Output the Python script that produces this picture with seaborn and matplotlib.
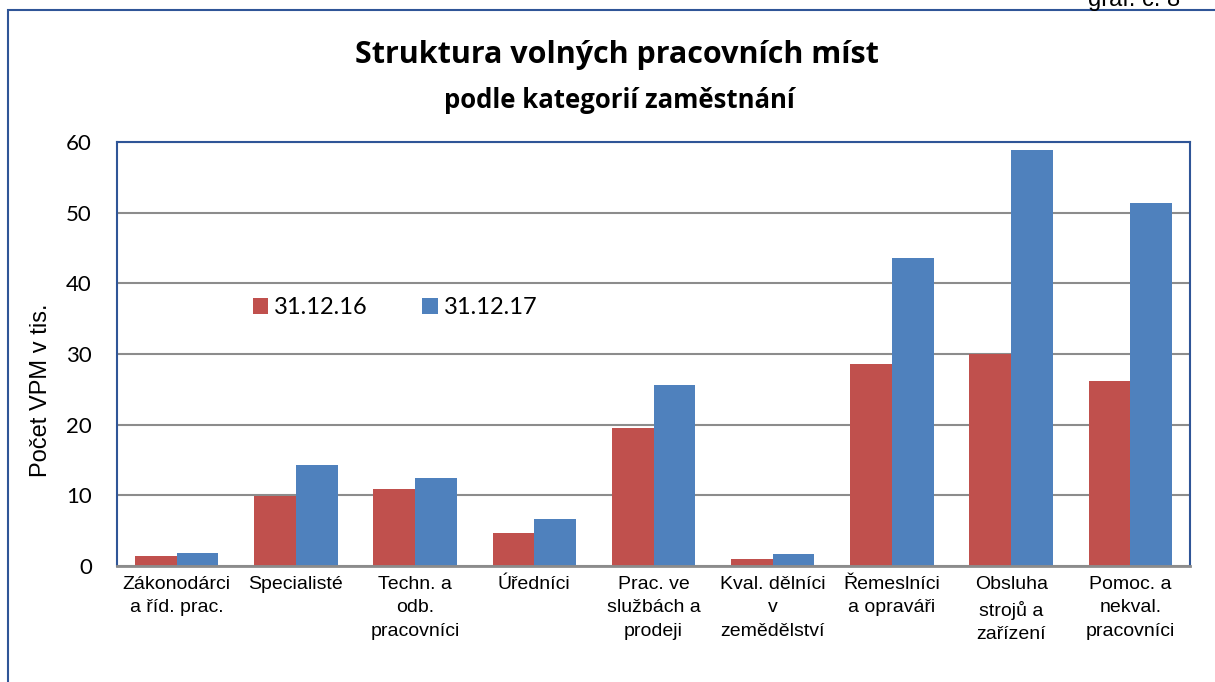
import matplotlib.pyplot as plt
import matplotlib.patches as mpatches
import seaborn as sns
import pandas as pd

categories = [
    "Zákonodárci\na říd. prac.",
    "Specialisté",
    "Techn. a\nodb.\npracovníci",
    "Úředníci",
    "Prac. ve\nslužbách a\nprodeji",
    "Kval. dělníci\nv\nzemědělství",
    "Řemeslníci\na opraváři",
    "Obsluha\nstrojů a\nzařízení",
    "Pomoc. a\nnekval.\npracovníci",
]
vpm_2016 = [1.4, 9.9, 10.9, 4.7, 19.5, 1.0, 28.6, 30.0, 26.2]
vpm_2017 = [1.8, 14.3, 12.4, 6.6, 25.6, 1.7, 43.6, 58.9, 51.4]
series = ["31.12.16", "31.12.17"]
colors = ["#C0504D", "#4F81BD"]

df = pd.DataFrame({
    "kategorie": categories * 2,
    "obdobi": [series[0]] * len(categories) + [series[1]] * len(categories),
    "pocet": vpm_2016 + vpm_2017,
})

sns.set_style("white")
plt.rcParams['font.family'] = ['Liberation Sans', 'DejaVu Sans']
plt.rcParams.update({"text.color": "black", "axes.labelcolor": "black",
                     "xtick.color": "black", "ytick.color": "black"})
calibri_like = ["Lato", "DejaVu Sans"]

W, H = 1215, 682
fig = plt.figure(figsize=(W / 100, H / 100), dpi=100)
ax = fig.add_axes([117 / W, 1 - 566 / H, (1190 - 117) / W, (566 - 142) / H])

sns.barplot(data=df, x="kategorie", y="pocet", hue="obdobi", palette=colors,
            width=0.7, ax=ax, saturation=1, linewidth=0, legend=True)

ax.set_ylim(0, 60)
ax.set_yticks(range(0, 61, 10))
ax.set_xlim(-0.5, len(categories) - 0.5)
ax.yaxis.grid(True, color="#8C8C8C", linewidth=1.5)
ax.set_axisbelow(True)
ax.tick_params(axis="y", length=0, pad=18)
ax.tick_params(axis="x", labelsize=14, length=0, pad=7)
for lbl in ax.get_yticklabels():
    lbl.set_fontfamily(calibri_like)
    lbl.set_fontsize(16)
for lbl in ax.get_xticklabels():
    lbl.set_multialignment("center")
    lbl.set_linespacing(1.52)
ax.set_xlabel("")
ax.set_ylabel("")
fig.text(41 / W, 1 - 390 / H, "Počet VPM v tis.", rotation=90,
         ha="center", va="center", fontsize=17)

for side in ["left", "top", "right"]:
    ax.spines[side].set_color("#2F5597")
    ax.spines[side].set_linewidth(1.5)
ax.spines["bottom"].set_color("#8C8C8C")
ax.spines["bottom"].set_linewidth(2)

ax.legend(loc="center left", bbox_to_anchor=((253 - 117) / 1073, (566 - 308) / 424),
          ncol=2, frameon=False, handlelength=0.65, handleheight=0.65,
          handletextpad=0.25, columnspacing=2.3, borderpad=0, borderaxespad=0,
          prop={"family": calibri_like, "size": 17})

fig.text(617 / W, 1 - 55 / H, "Struktura volných pracovních míst", ha="center",
         va="center", fontsize=22, fontweight="bold", family=["Open Sans", "DejaVu Sans"])
fig.text(619 / W, 1 - 100 / H, "podle kategorií zaměstnání", ha="center",
         va="center", fontsize=18.5, fontweight="bold", family=["Open Sans", "DejaVu Sans"])
fig.text(1088 / W, 1.0, "graf. č. 8", ha="left", va="center", fontsize=17)

# outer frame of the chart
frame = mpatches.Rectangle((8 / W, -0.05), 1.2, 1 - 10 / H + 0.05,
                           transform=fig.transFigure, fill=False,
                           edgecolor="#2F5597", linewidth=1.5)
fig.patches.append(frame)

fig.savefig("out.png", dpi=100)
